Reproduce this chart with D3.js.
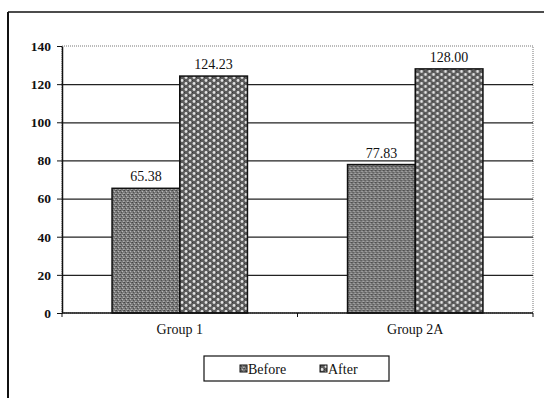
<!DOCTYPE html>
<html>
<head>
  <meta charset="utf-8">
  <script src="https://d3js.org/d3.v7.min.js"></script>
  <style>
    body { margin: 0; background: #fff; }
    text { font-family: "Liberation Serif", "Times New Roman", serif; fill: #111; }
  </style>
</head>
<body>
  <script>
    var groups = ['Group 1', 'Group 2A'];
    var seriesNames = ['Before', 'After'];
    var before = [65.38, 77.83];
    var after = [124.23, 128.00];
    var yTicks = [0, 20, 40, 60, 80, 100, 120, 140];

    var w = 544, h = 398;
    var margin = {top: 46, right: 11, bottom: 85, left: 62};
    var innerW = w - margin.left - margin.right,
      innerH = h - margin.top - margin.bottom;

    var svg = d3.select('body').append('svg')
      .attr('width', w)
      .attr('height', h);

    // patterns for the two series
    var defs = svg.append('defs');
    var p1 = defs.append('pattern')
      .attr('id', 'patBefore')
      .attr('patternUnits', 'userSpaceOnUse')
      .attr('width', 4).attr('height', 4);
    p1.append('rect').attr('width', 4).attr('height', 4).attr('fill', '#7a7a7a');
    [[0, 0, '#444'], [2, 1, '#bbbbbb'], [1, 2, '#4e4e4e'], [3, 3, '#b0b0b0'], [3, 0, '#5a5a5a'], [0, 3, '#959595']]
      .forEach(function(d) {
        p1.append('rect').attr('x', d[0]).attr('y', d[1]).attr('width', 1).attr('height', 1).attr('fill', d[2]);
      });
    var p2 = defs.append('pattern')
      .attr('id', 'patAfter')
      .attr('patternUnits', 'userSpaceOnUse')
      .attr('width', 8).attr('height', 6);
    p2.append('rect').attr('width', 8).attr('height', 6).attr('fill', '#5c5c5c');
    [[2, 1.5], [6, 4.5]].forEach(function(d) {
      p2.append('circle').attr('cx', d[0]).attr('cy', d[1]).attr('r', 1.4).attr('fill', '#e4e4e4');
    });
    [[0, 4.5], [4, 1.5]].forEach(function(d) {
      p2.append('rect').attr('x', d[0]).attr('y', d[1] - 0.5).attr('width', 1).attr('height', 1).attr('fill', '#333');
    });

    // outer frame (top and left)
    svg.append('line').attr('x1', 8).attr('x2', w).attr('y1', 12).attr('y2', 12)
      .attr('stroke', '#111').attr('stroke-width', 1.5);
    svg.append('line').attr('x1', 8).attr('x2', 8).attr('y1', 12).attr('y2', h)
      .attr('stroke', '#111').attr('stroke-width', 2);

    var g = svg.append('g')
      .attr('transform', 'translate(' + [margin.left, margin.top] + ')');

    var x0 = d3.scaleBand().domain(groups).range([0, innerW]).paddingInner(0).paddingOuter(0);
    var x1 = d3.scaleBand().domain(seriesNames).range([0, x0.bandwidth() * 0.575]).padding(0);
    var y = d3.scaleLinear().domain([0, 140]).range([innerH, 0]);

    // plot area border
    g.append('rect')
      .attr('width', innerW).attr('height', innerH)
      .attr('fill', 'none').attr('stroke', '#777').attr('stroke-width', 1)
      .attr('stroke-dasharray', '1,1');

    // grid lines
    g.selectAll('.grid').data(yTicks.slice(1, -1))
      .enter().append('line')
      .attr('class', 'grid')
      .attr('x1', 0).attr('x2', innerW)
      .attr('y1', function(d) { return y(d) + 0.5; })
      .attr('y2', function(d) { return y(d) + 0.5; })
      .attr('stroke', '#222').attr('stroke-width', 1.2);

    var data = groups.map(function(gr, i) {
      return {group: gr, values: [
        {key: 'Before', value: before[i]},
        {key: 'After', value: after[i]}
      ]};
    });

    var gg = g.selectAll('.grp').data(data)
      .enter().append('g')
      .attr('class', 'grp')
      .attr('transform', function(d) {
        return 'translate(' + (x0(d.group) + x0.bandwidth() * 0.2125) + ',0)';
      });

    gg.selectAll('rect').data(function(d) { return d.values; })
      .enter().append('rect')
      .attr('x', function(d) { return x1(d.key); })
      .attr('width', x1.bandwidth())
      .attr('y', function(d) { return y(d.value); })
      .attr('height', function(d) { return innerH - y(d.value); })
      .attr('fill', function(d) { return d.key === 'Before' ? 'url(#patBefore)' : 'url(#patAfter)'; })
      .attr('stroke', '#111').attr('stroke-width', 1.5);

    gg.selectAll('.val').data(function(d) { return d.values; })
      .enter().append('text')
      .attr('class', 'val')
      .attr('x', function(d) { return x1(d.key) + x1.bandwidth() / 2; })
      .attr('y', function(d) { return y(d.value) - 7; })
      .attr('text-anchor', 'middle')
      .style('font-size', '14px')
      .text(function(d) { return d.value.toFixed(2); });

    // y axis
    var yAxis = d3.axisLeft(y).tickValues(yTicks).tickSize(5).tickSizeOuter(0).tickPadding(6);
    var ya = g.append('g').call(yAxis);
    ya.select('.domain').attr('stroke', '#111').attr('stroke-width', 1.5);
    ya.selectAll('line').attr('stroke', '#111');
    ya.selectAll('text').style('font-size', '13.5px').style('font-weight', 'bold')
      .style('font-family', '"Liberation Serif", serif');

    // x axis with ticks at category boundaries
    var xa = g.append('g').attr('transform', 'translate(0,' + innerH + ')');
    xa.append('line').attr('x1', 0).attr('x2', innerW).attr('stroke', '#111').attr('stroke-width', 1.5);
    xa.selectAll('.xt').data([0, 1, 2]).enter().append('line')
      .attr('class', 'xt')
      .attr('x1', function(d) { return d * x0.bandwidth(); })
      .attr('x2', function(d) { return d * x0.bandwidth(); })
      .attr('y1', 0).attr('y2', 4)
      .attr('stroke', '#111');
    xa.selectAll('.xl').data(groups).enter().append('text')
      .attr('class', 'xl')
      .attr('x', function(d) { return x0(d) + x0.bandwidth() / 2; })
      .attr('y', 21)
      .attr('text-anchor', 'middle')
      .style('font-size', '14px')
      .text(function(d) { return d; });

    // legend
    var lg = svg.append('g').attr('transform', 'translate(204,356)');
    lg.append('rect').attr('width', 185).attr('height', 25)
      .attr('fill', '#fff').attr('stroke', '#111').attr('stroke-width', 1.2);
    var items = [{name: 'Before', x: 36, pat: 'url(#patBefore)'}, {name: 'After', x: 116, pat: 'url(#patAfter)'}];
    var li = lg.selectAll('.li').data(items).enter().append('g')
      .attr('transform', function(d) { return 'translate(' + d.x + ',0)'; });
    li.append('rect').attr('x', 0).attr('y', 9).attr('width', 7).attr('height', 7)
      .attr('fill', function(d) { return d.pat; }).attr('stroke', '#111');
    li.append('text').attr('x', 8).attr('y', 17.5)
      .style('font-size', '14px')
      .text(function(d) { return d.name; });
  </script>
</body>
</html>
